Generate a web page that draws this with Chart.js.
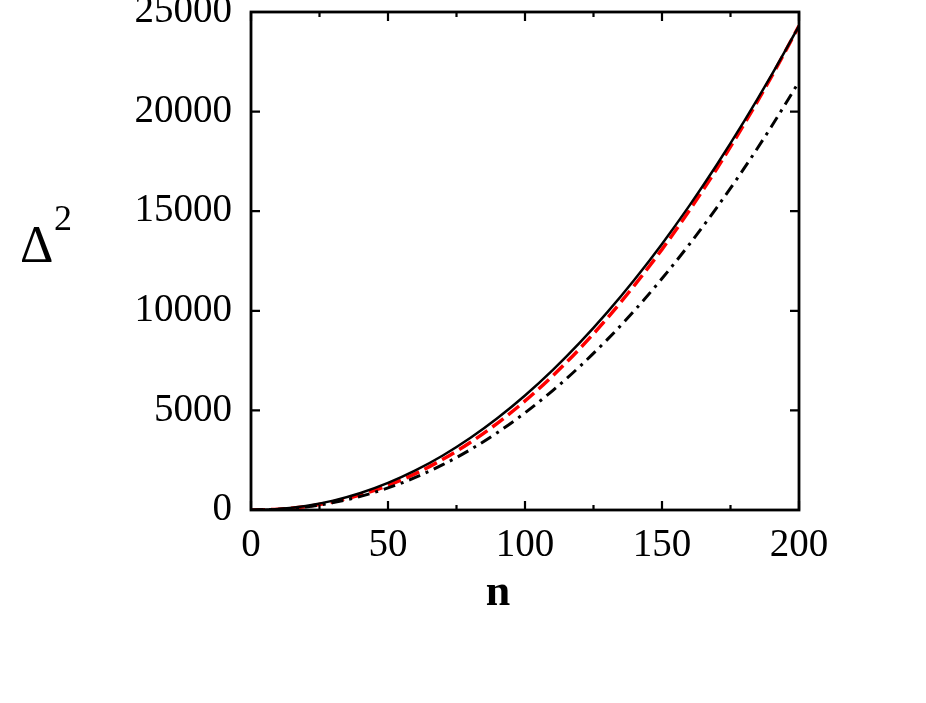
<!DOCTYPE html>
<html>
<head>
<meta charset="utf-8">
<script src="https://cdn.jsdelivr.net/npm/chart.js@4.4.1/dist/chart.umd.min.js"></script>
<style>
  body { margin: 0; background: #fff; }
  canvas { display: block; }
</style>
</head>
<body>
<canvas id="myChart" width="926" height="703"></canvas>
<script>
// n values along the x axis
const nValues = [0, 10, 20, 30, 40, 50, 60, 70, 80, 90, 100, 110, 120, 130, 140, 150, 160, 170, 180, 190, 200];

// solid black curve
const solidCurve = [0, 48, 202, 470, 854, 1359, 1987, 2737, 3613, 4617, 5747, 7008, 8398, 9919, 11572, 13358, 15278, 17331, 19518, 21841, 24300];

// red dashed curve
const redDashed = [0, 39, 172, 411, 764, 1234, 1826, 2545, 3388, 4364, 5475, 6721, 8104, 9626, 11287, 13085, 15042, 17134, 19375, 21763, 24300];

// black dash-dot curve
const dashDot = [0, 35, 156, 371, 686, 1107, 1634, 2275, 3025, 3894, 4878, 5981, 7207, 8551, 10021, 11619, 13339, 15185, 17159, 19264, 21500];

const xTicks = [0, 50, 100, 150, 200];
const xMinorTicks = [25, 75, 125, 175];
const yTicks = [0, 5000, 10000, 15000, 20000, 25000];

const serif = '"Liberation Serif", "DejaVu Serif", serif';

function toPoints(ys) {
    return nValues.map((n, i) => ({ x: n, y: ys[i] }));
}

// frame, inward ticks and the axis titles
const framePlugin = {
    id: 'frame',
    afterDraw(c) {
        const ctx = c.ctx;
        const a = c.chartArea;
        const xs = c.scales.x;
        const ys = c.scales.y;
        ctx.save();
        ctx.strokeStyle = '#000';
        ctx.lineWidth = 2.8;
        ctx.strokeRect(a.left, a.top, a.right - a.left, a.bottom - a.top);

        ctx.lineWidth = 2.2;
        ctx.beginPath();
        xTicks.forEach(v => {
            const px = xs.getPixelForValue(v);
            ctx.moveTo(px, a.bottom); ctx.lineTo(px, a.bottom - 9);
            ctx.moveTo(px, a.top); ctx.lineTo(px, a.top + 9);
        });
        xMinorTicks.forEach(v => {
            const px = xs.getPixelForValue(v);
            ctx.moveTo(px, a.bottom); ctx.lineTo(px, a.bottom - 5);
            ctx.moveTo(px, a.top); ctx.lineTo(px, a.top + 5);
        });
        yTicks.forEach(v => {
            const py = ys.getPixelForValue(v);
            ctx.moveTo(a.left, py); ctx.lineTo(a.left + 9, py);
            ctx.moveTo(a.right, py); ctx.lineTo(a.right - 9, py);
        });
        ctx.stroke();

        ctx.fillStyle = '#000';
        ctx.textBaseline = 'alphabetic';
        ctx.textAlign = 'left';
        ctx.font = '52px ' + serif;
        ctx.fillText('Δ', 20, 262);
        ctx.font = '36px ' + serif;
        ctx.fillText('2', 54, 230);

        ctx.textAlign = 'center';
        ctx.font = 'bold 44px ' + serif;
        ctx.fillText('n', 498, 605);
        ctx.restore();
    }
};

new Chart(document.getElementById('myChart'), {
    type: 'line',
    data: {
        datasets: [
            {
                label: 'solid',
                data: toPoints(solidCurve),
                borderColor: '#000',
                borderWidth: 2.5,
                pointRadius: 0,
                cubicInterpolationMode: 'monotone'
            },
            {
                label: 'dash-dot',
                data: toPoints(dashDot),
                borderColor: '#000',
                borderWidth: 3,
                borderDash: [12, 6, 3, 6],
                pointRadius: 0,
                cubicInterpolationMode: 'monotone'
            },
            {
                label: 'red dashed',
                data: toPoints(redDashed),
                borderColor: '#ff0000',
                borderWidth: 3.5,
                borderDash: [14, 6],
                pointRadius: 0,
                cubicInterpolationMode: 'monotone'
            }
        ]
    },
    options: {
        responsive: false,
        animation: false,
        layout: { padding: { left: 0, top: 12, right: 127, bottom: 0 } },
        plugins: {
            legend: { display: false },
            tooltip: { enabled: false }
        },
        scales: {
            x: {
                type: 'linear',
                min: 0,
                max: 200,
                grid: { display: false, drawTicks: false },
                border: { display: false },
                afterFit(s) { s.height = 193; },
                afterBuildTicks(s) { s.ticks = xTicks.map(v => ({ value: v })); },
                ticks: {
                    color: '#000',
                    padding: 12,
                    maxRotation: 0,
                    font: { family: serif, size: 39 }
                }
            },
            y: {
                type: 'linear',
                min: 0,
                max: 25000,
                grid: { display: false, drawTicks: false },
                border: { display: false },
                afterFit(s) {
                    s.width = 251;
                    s.paddingTop = 0;
                    s.paddingBottom = 0;
                },
                afterBuildTicks(s) { s.ticks = yTicks.map(v => ({ value: v })); },
                ticks: {
                    color: '#000',
                    padding: 19,
                    font: { family: serif, size: 39 },
                    callback: v => String(v)
                }
            }
        }
    },
    plugins: [framePlugin]
});
</script>
</body>
</html>
